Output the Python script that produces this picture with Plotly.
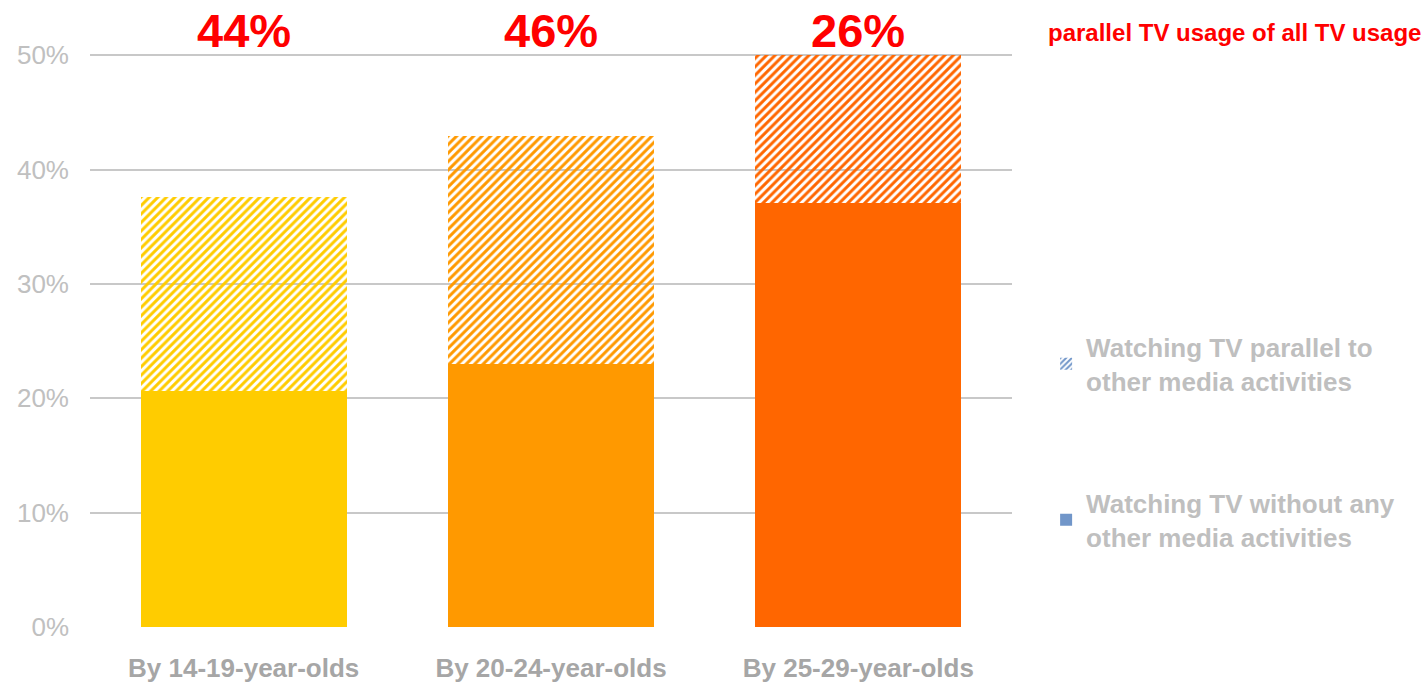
import plotly.graph_objects as go

categories = ["By 14-19-year-olds", "By 20-24-year-olds", "By 25-29-year-olds"]
without_other = [20.6, 23.0, 37.1]
parallel = [17.0, 19.9, 12.9]
share_labels = ["44%", "46%", "26%"]
bar_colors = ["#FFCC00", "#FF9900", "#FF6600"]
legend_color = "#7196C9"
ytick_vals = [0, 10, 20, 30, 40, 50]
ytick_text = ["0%", "10%", "20%", "30%", "40%", "50%"]

fig = go.Figure()

fig.add_trace(go.Bar(
    x=categories, y=without_other, marker=dict(color=bar_colors, line=dict(width=0)),
    showlegend=False, hoverinfo="skip"))
fig.add_trace(go.Bar(
    x=categories, y=parallel,
    marker=dict(color=bar_colors, line=dict(width=0),
                pattern=dict(shape="/", fgcolor=bar_colors, bgcolor="white", size=6, solidity=0.5, fillmode="replace")),
    showlegend=False, hoverinfo="skip"))

# legend-only traces
fig.add_trace(go.Bar(
    x=[categories[0]], y=[None], name="Watching TV parallel to<br>other media activities",
    marker=dict(color=legend_color, line=dict(width=0),
                pattern=dict(shape="/", fgcolor=legend_color, bgcolor="white", size=5, solidity=0.5, fillmode="replace")),
    legend="legend"))
fig.add_trace(go.Bar(
    x=[categories[0]], y=[None], name="Watching TV without any<br>other media activities",
    marker=dict(color=legend_color, line=dict(width=0)), legend="legend2"))

for cat, lab in zip(categories, share_labels):
    fig.add_annotation(x=cat, xref="x", y=1.0385, yref="paper", text="<b>" + lab + "</b>",
                       showarrow=False, yanchor="middle", xanchor="center",
                       font=dict(family="Liberation Sans, Arial", size=47, color="#FF0000"))

fig.add_annotation(x=1.2408, xref="paper", y=1.0355, yref="paper",
                   text="<b>parallel TV usage of all TV usage</b>", showarrow=False,
                   xanchor="center", yanchor="middle",
                   font=dict(family="Liberation Sans, Arial", size=24, color="#FF0000"))

legend_font = dict(family="Liberation Sans, Arial", size=26, color="#BFBFBF", weight="bold")

fig.update_layout(
    width=1425, height=685,
    margin=dict(l=90, r=413, t=53, b=58, autoexpand=False),
    paper_bgcolor="white", plot_bgcolor="white",
    barmode="stack", bargap=0.33,
    font=dict(family="Liberation Sans, Arial"),
    legend=dict(x=1.037, y=0.529, xanchor="left", yanchor="top", font=legend_font,
                bgcolor="rgba(0,0,0,0)", itemwidth=30, tracegroupgap=0),
    legend2=dict(x=1.037, y=0.257, xanchor="left", yanchor="top", font=legend_font,
                 bgcolor="rgba(0,0,0,0)", itemwidth=30),
    xaxis=dict(showline=False, ticks="", showgrid=False, ticklabelstandoff=23, automargin=False,
               tickfont=dict(family="Liberation Sans, Arial", size=26, color="#A6A6A6", weight="bold")),
    yaxis=dict(range=[0, 50.2], tickvals=ytick_vals, ticktext=ytick_text, showgrid=True,
               gridcolor="#C8C8C8", gridwidth=1.5, zeroline=False, showline=False, automargin=False,
               ticks="", ticklabelstandoff=20,
               tickfont=dict(family="Liberation Sans, Arial", size=26, color="#C0C0C0")),
)

fig.write_html("out.html")
